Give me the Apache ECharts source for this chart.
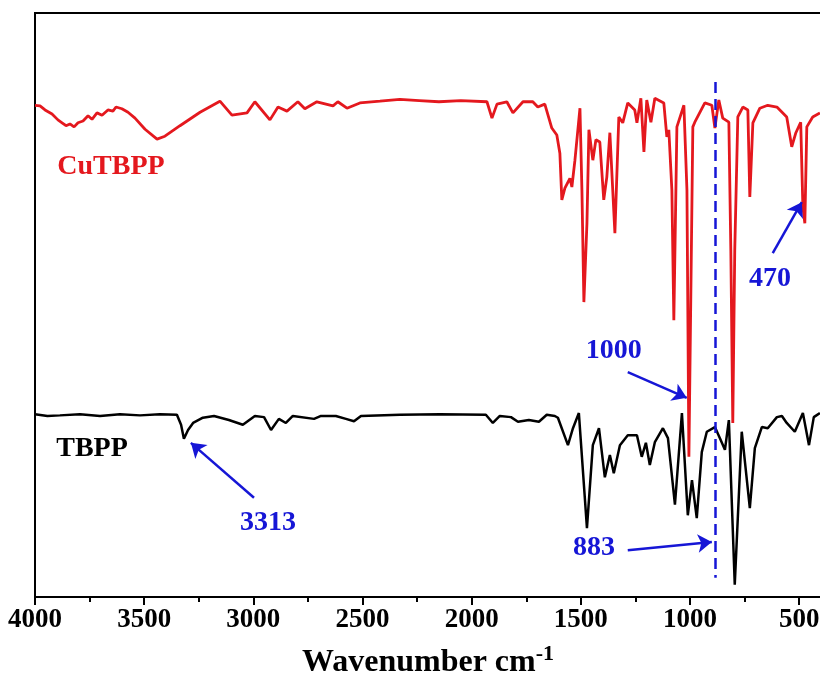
<!DOCTYPE html>
<html>
<head>
<meta charset="utf-8">
<title>FTIR CuTBPP / TBPP</title>
<script src="https://cdn.jsdelivr.net/npm/echarts@6/dist/echarts.min.js"></script>
<style>
html, body { margin: 0; padding: 0; background: #fff; }
#chart { width: 820px; height: 691px; }
</style>
</head>
<body>
<div id="chart"></div>
<script>
// CuTBPP spectrum (wavenumber, transmittance a.u.)
const cuWn = [4000,3977,3954,3922,3895,3876,3858,3840,3821,3803,3780,3757,3739,3716,3693,3666,3643,3629,3602,3574,
    3542,3496,3441,3405,3336,3244,3153,3098,3029,2993,2924,2887,2846,2796,2764,2709,2635,2613,2571,2512,
    2420,2329,2240,2150,2050,1930,1907,1884,1839,1811,1765,1720,1697,1665,1633,1610,1596,1587,1573,1550,
    1541,1527,1504,1495,1486,1472,1463,1445,1431,1413,1395,1381,1367,1344,1326,1308,1285,1253,1243,1225,
    1211,1198,1179,1161,1120,1106,1097,1083,1074,1060,1028,1014,1005,991,987,978,932,900,886,868,
    850,822,813,804,795,781,758,735,726,712,680,644,602,557,534,515,493,483,474,465,438,405];
const cuT = [84.2,84.1,83.4,82.7,81.7,81.2,80.7,81.0,80.5,81.2,81.5,82.4,81.8,82.9,82.5,83.4,83.2,83.9,83.6,83.0,
    82.0,80.1,78.4,78.9,80.7,83.0,84.9,82.5,82.9,84.8,81.7,83.9,83.2,84.8,83.6,84.8,84.1,84.8,83.7,84.6,
    84.9,85.2,85.0,84.8,85.0,84.8,82.0,84.4,84.8,82.9,84.8,84.8,83.9,84.4,80.3,79.1,76.0,68.0,70.0,71.7,
    70.2,74.8,83.7,69.7,50.5,64.0,80.0,74.8,78.3,77.9,68.0,71.9,79.5,62.3,82.2,81.2,84.6,83.4,81.2,85.4,
    76.2,85.1,81.3,85.4,84.6,78.8,80.0,69.7,47.4,80.5,84.2,69.7,24.0,68.0,80.5,81.3,84.6,84.2,80.3,85.1,
    82.0,81.3,59.4,29.8,59.4,82.2,83.9,83.4,68.5,81.2,83.7,84.2,83.9,82.2,77.1,79.5,81.3,66.8,64.0,80.5,82.2,82.9];

// TBPP spectrum
const tbWn = [4000,3943,3886,3794,3702,3611,3519,3428,3350,3331,3318,3299,3276,3231,3180,3112,3048,2993,2951,2919,
    2883,2851,2819,2722,2690,2622,2576,2539,2507,2329,2145,1935,1903,1871,1820,1788,1738,1692,1656,1619,
    1605,1559,1536,1509,1472,1445,1417,1390,1367,1349,1321,1285,1243,1221,1202,1184,1161,1124,1101,1069,
    1037,1010,991,969,946,923,886,863,840,822,795,763,726,703,671,644,602,579,557,520,483,455,433,405];
const tbT = [31.3,31.0,31.1,31.3,31.0,31.3,31.1,31.3,31.2,29.5,27.1,28.6,29.8,30.7,31.0,30.3,29.5,31.0,30.8,28.6,
    30.5,29.8,31.0,30.5,31.0,31.0,30.5,30.1,31.0,31.2,31.3,31.2,29.8,31.0,30.8,30.0,30.3,30.0,31.2,31.0,
    30.7,26.0,28.9,31.5,11.8,26.0,28.9,20.5,24.3,21.2,26.0,27.7,27.7,24.0,26.4,22.6,26.5,28.9,27.2,15.8,
    31.5,14.0,20.0,13.5,24.8,28.3,29.1,27.2,25.2,30.3,2.1,28.3,15.2,25.5,29.1,28.9,30.8,31.0,29.8,28.3,31.5,26.0,30.8,31.5];

// peak labels and arrows (data coordinates)
const peakLabels = ['3313', '1000', '883', '470'];
const peakLabelPos = [[2933, 12.7], [1349, 42.1], [1440, 8.4], [634, 54.5]];
const arrowFrom = [[2997, 17.0], [1285, 38.5], [1285, 8.0], [621, 58.9]];
const arrowTo = [[3286, 26.4], [1015, 34.1], [900, 9.4], [488, 67.6]];
const markerWn = 883;

const serif = '"Liberation Serif", "Times New Roman", serif';
const blue = '#1616d6';
const red = '#e4181e';

function zip(xs, ys) {
    return xs.map((x, i) => [x, ys[i]]);
}

const chart = echarts.init(document.getElementById('chart'));

const noteMarks = peakLabels.map((t, i) => ({
    coord: peakLabelPos[i],
    label: { formatter: t, color: blue }
}));
noteMarks.push({ coord: [3652, 73.6], label: { formatter: 'CuTBPP', color: red } });
noteMarks.push({ coord: [3739, 25.3], label: { formatter: 'TBPP', color: '#000' } });

const arrowLines = arrowFrom.map((p, i) => [
    { coord: p, symbol: 'none' },
    { coord: arrowTo[i], symbol: 'arrow' }
]);
arrowLines.push([
    { coord: [markerWn, 88.2], symbol: 'none' },
    { coord: [markerWn, 3.3], symbol: 'none', lineStyle: { type: [11, 6], width: 2.5, color: blue } }
]);

const option = {
    animation: false,
    grid: {
        left: 35, right: -1, top: 13, bottom: 94,
        outerBoundsMode: 'none',
        containLabel: false,
        show: true, borderColor: '#000', borderWidth: 2
    },
    xAxis: {
        type: 'value',
        min: 400,
        max: 4000,
        inverse: true,
        minInterval: 500,
        maxInterval: 500,
        splitLine: { show: false },
        axisLine: { lineStyle: { color: '#000', width: 2 } },
        axisTick: { inside: false, length: 8, lineStyle: { width: 2, color: '#000' } },
        minorTick: { show: true, splitNumber: 2, length: 5, lineStyle: { width: 2, color: '#000' } },
        axisLabel: {
            margin: 10,
            color: '#000',
            fontSize: 27,
            fontWeight: 'bold',
            fontFamily: serif,
            formatter: v => (v % 500 === 0 ? String(v) : '')
        },
        name: '{a|Wavenumber cm}{b|-1}',
        nameLocation: 'middle',
        nameGap: 46,
        nameTextStyle: {
            rich: {
                a: { fontSize: 32, fontWeight: 'bold', fontFamily: serif, color: '#000', lineHeight: 40 },
                b: { fontSize: 22, fontWeight: 'bold', fontFamily: serif, color: '#000', verticalAlign: 'top', lineHeight: 22 }
            }
        }
    },
    yAxis: {
        type: 'value',
        min: 0,
        max: 100,
        axisLine: { show: true, lineStyle: { color: '#000', width: 2 } },
        axisTick: { show: false },
        axisLabel: { show: false },
        splitLine: { show: false }
    },
    series: [
        {
            name: 'TBPP',
            type: 'line',
            data: zip(tbWn, tbT),
            showSymbol: false,
            lineStyle: { color: '#000', width: 2.5 },
            z: 2
        },
        {
            name: 'CuTBPP',
            type: 'line',
            data: zip(cuWn, cuT),
            showSymbol: false,
            lineStyle: { color: red, width: 2.8 },
            z: 3
        },
        {
            name: 'notes',
            type: 'line',
            data: [],
            z: 5,
            markLine: {
                silent: true,
                animation: false,
                symbolSize: 14,
                label: { show: false },
                lineStyle: { color: blue, width: 2.5, type: 'solid' },
                data: arrowLines
            },
            markPoint: {
                silent: true,
                animation: false,
                symbol: 'rect',
                symbolSize: 1,
                itemStyle: { color: 'rgba(0,0,0,0)' },
                label: {
                    show: true,
                    position: 'inside',
                    fontSize: 28,
                    fontWeight: 'bold',
                    fontFamily: serif
                },
                data: noteMarks
            }
        }
    ]
};

chart.setOption(option);

window.addEventListener('resize', function () {
    chart.resize();
});
</script>
</body>
</html>
